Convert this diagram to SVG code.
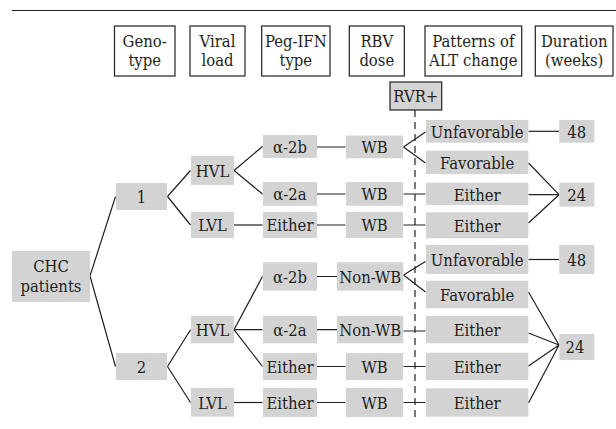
<svg xmlns="http://www.w3.org/2000/svg" width="616" height="429" viewBox="0 0 616 429">
<style>
  .hdr rect { fill: #ffffff; stroke: #231f20; stroke-width: 1.2; }
  .node rect { fill: #d3d3d3; stroke: none; }
  .rvr rect { fill: #d3d3d3; stroke: #231f20; stroke-width: 1.2; }
  text { font-family: "DejaVu Serif Condensed", "DejaVu Serif", "Liberation Serif", serif; font-stretch: condensed; font-size: 16.5px; fill: #231f20; text-anchor: middle; }
  .conn path { fill: none; stroke: #231f20; stroke-width: 1.2; }
  .conn .dash { stroke-dasharray: 7 5; }
</style>
<rect x="0" y="0" width="616" height="429" fill="#ffffff"/>
<path d="M12,10.5 L616,10.5" stroke="#231f20" stroke-width="1"/>

<!-- header -->
<g id="h-genotype" class="hdr"><rect x="114.5" y="26" width="60.5" height="50"/><text x="144.7" y="47">Geno-</text><text x="144.7" y="66">type</text></g>
<g id="h-viral" class="hdr"><rect x="190" y="26" width="55" height="50"/><text x="217.5" y="47">Viral</text><text x="217.5" y="66">load</text></g>
<g id="h-peg" class="hdr"><rect x="261.7" y="26" width="68.3" height="50"/><text x="295.8" y="47">Peg-IFN</text><text x="295.8" y="66">type</text></g>
<g id="h-rbv" class="hdr"><rect x="349.3" y="26" width="55" height="50"/><text x="376.8" y="47">RBV</text><text x="376.8" y="66">dose</text></g>
<g id="h-alt" class="hdr"><rect x="425" y="26" width="96.7" height="50"/><text x="473.3" y="47">Patterns of</text><text x="473.3" y="66">ALT change</text></g>
<g id="h-dur" class="hdr"><rect x="535.3" y="26" width="77.7" height="50"/><text x="574.2" y="47">Duration</text><text x="574.2" y="66">(weeks)</text></g>

<g id="rvr" class="rvr"><rect x="390" y="82" width="51.7" height="28"/><text x="415.8" y="101.5">RVR+</text></g>

<!-- connectors -->
<g id="connectors" class="conn">
  <path class="dash" d="M415,110 L415,418"/>
  <path d="M90,276 L115.5,196.5 M90,276 L115.5,366.5"/>
  <path d="M167.5,196.5 L190.5,170.5 M167.5,196.5 L190.5,225"/>
  <path d="M234,170.5 L262.5,146.5 M234,170.5 L262.5,194"/>
  <path d="M234,225 L262.5,225"/>
  <path d="M317,147 L345.5,147 M317,194 L345.5,194 M317,225 L345.5,225"/>
  <path d="M403.5,147 L425.5,132 M403.5,147 L425.5,163"/>
  <path d="M403.5,194 L425.5,194 M403.5,225 L425.5,225"/>
  <path d="M528.5,131.3 L559,131.3"/>
  <path d="M528.5,163 L559,194.7 M528.5,194.7 L559,194.7 M528.5,223 L559,194.7"/>
  <path d="M167.5,366.5 L190.5,329.7 M167.5,366.5 L190.5,402.5"/>
  <path d="M234,329.7 L262.5,276.5 M234,329.7 L262.5,329.7 M234,329.7 L262.5,366.5"/>
  <path d="M234,402.5 L262.5,402.5"/>
  <path d="M317,276.5 L337,276.5 M317,329.7 L337,329.7"/>
  <path d="M317,366.5 L345.5,366.5 M317,402.5 L345.5,402.5"/>
  <path d="M403.5,275 L425.5,261.5 M403.5,275 L425.5,292"/>
  <path d="M403.5,331 L425.5,331 M403.5,366.5 L425.5,366.5 M403.5,402.5 L425.5,402.5"/>
  <path d="M528.5,259.5 L559,259.5"/>
  <path d="M528.5,292 L559,345 M528.5,333 L559,345 M528.5,366 L559,345 M528.5,403 L559,345"/>
</g>

<!-- nodes -->
<g id="chc" class="node"><rect x="12" y="251" width="78" height="51"/><text x="51" y="272">CHC</text><text x="51" y="292">patients</text></g>
<g id="g1" class="node"><rect x="116" y="183" width="51" height="27"/><text x="141.5" y="202.5">1</text></g>
<g id="g2" class="node"><rect x="116" y="353" width="51" height="27"/><text x="141.5" y="372.5">2</text></g>

<g id="hvl1" class="node"><rect x="191" y="156" width="43" height="29"/><text x="212.5" y="176.5">HVL</text></g>
<g id="lvl1" class="node"><rect x="191" y="212" width="43" height="26"/><text x="212.5" y="231">LVL</text></g>
<g id="hvl2" class="node"><rect x="191" y="316" width="43" height="27.3"/><text x="212.5" y="335.7">HVL</text></g>
<g id="lvl2" class="node"><rect x="191" y="388" width="43" height="28.7"/><text x="212.5" y="408.5">LVL</text></g>

<g id="a2b1" class="node"><rect x="263" y="135" width="54" height="23"/><text x="290" y="152.5">α-2b</text></g>
<g id="a2a1" class="node"><rect x="263" y="182" width="54" height="23.7"/><text x="290" y="200">α-2a</text></g>
<g id="either1" class="node"><rect x="263" y="212" width="54" height="26"/><text x="290" y="231">Either</text></g>
<g id="a2b2" class="node"><rect x="263" y="262.3" width="54" height="28.4"/><text x="290" y="282.5">α-2b</text></g>
<g id="a2a2" class="node"><rect x="263" y="316" width="54" height="27.3"/><text x="290" y="335.7">α-2a</text></g>
<g id="either2a" class="node"><rect x="263" y="353" width="54" height="27"/><text x="290" y="372.5">Either</text></g>
<g id="either2b" class="node"><rect x="263" y="388" width="54" height="29"/><text x="290" y="408.5">Either</text></g>

<g id="wb1a" class="node"><rect x="346" y="135.5" width="57" height="22.8"/><text x="374.5" y="153">WB</text></g>
<g id="wb1b" class="node"><rect x="346" y="182" width="57" height="23.7"/><text x="374.5" y="200">WB</text></g>
<g id="wb1c" class="node"><rect x="346" y="212" width="57" height="26"/><text x="374.5" y="231">WB</text></g>
<g id="nonwb2a" class="node"><rect x="337" y="262.3" width="66.3" height="28.4"/><text x="370.2" y="282.5">Non-WB</text></g>
<g id="nonwb2b" class="node"><rect x="337" y="316" width="66.3" height="27.3"/><text x="370.2" y="335.7">Non-WB</text></g>
<g id="wb2c" class="node"><rect x="346" y="353" width="57" height="27"/><text x="374.5" y="372.5">WB</text></g>
<g id="wb2d" class="node"><rect x="346" y="388" width="57" height="29"/><text x="374.5" y="408.5">WB</text></g>

<g id="unfav1" class="node"><rect x="426" y="120" width="102.3" height="22.7"/><text x="477.2" y="137.5">Unfavorable</text></g>
<g id="fav1" class="node"><rect x="426" y="150.7" width="102.3" height="23.3"/><text x="477.2" y="168.5">Favorable</text></g>
<g id="either1a" class="node"><rect x="426" y="182.7" width="102.3" height="22.3"/><text x="477.2" y="200.5">Either</text></g>
<g id="either1b" class="node"><rect x="426" y="212.3" width="102.3" height="26"/><text x="477.2" y="231.5">Either</text></g>
<g id="unfav2" class="node"><rect x="426" y="245" width="102.3" height="29"/><text x="477.2" y="265.5">Unfavorable</text></g>
<g id="fav2" class="node"><rect x="426" y="280.7" width="102.3" height="27.6"/><text x="477.2" y="300.5">Favorable</text></g>
<g id="either2c" class="node"><rect x="426" y="316" width="102.3" height="27.3"/><text x="477.2" y="335.7">Either</text></g>
<g id="either2d" class="node"><rect x="426" y="352.7" width="102.3" height="27.3"/><text x="477.2" y="372.5">Either</text></g>
<g id="either2e" class="node"><rect x="426" y="388.3" width="102.3" height="28.4"/><text x="477.2" y="408.5">Either</text></g>

<g id="w48a" class="node"><rect x="559.3" y="120" width="35" height="22.7"/><text x="576.8" y="137.5">48</text></g>
<g id="w24a" class="node"><rect x="559.3" y="182.7" width="35" height="24"/><text x="576.8" y="201">24</text></g>
<g id="w48b" class="node"><rect x="559.3" y="245" width="35" height="29"/><text x="576.8" y="265.5">48</text></g>
<g id="w24b" class="node"><rect x="559.3" y="334" width="35" height="26"/><text x="575" y="353">24</text></g>
</svg>
